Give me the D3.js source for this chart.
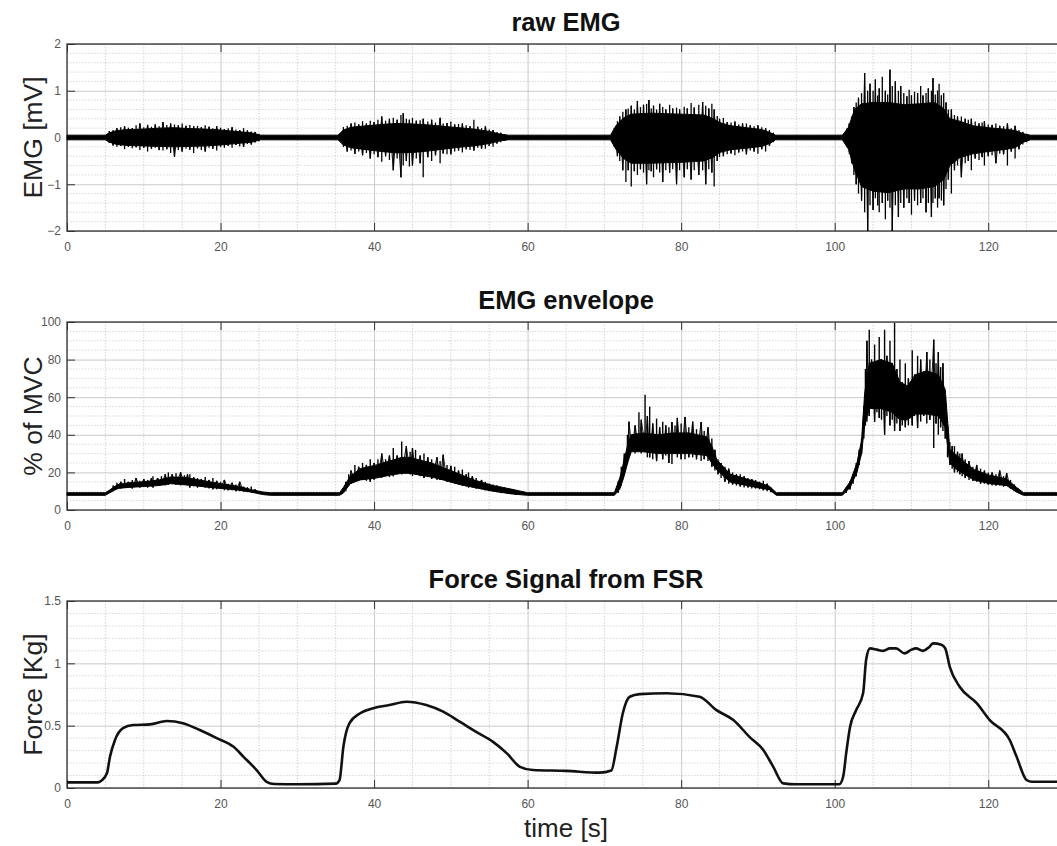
<!DOCTYPE html>
<html>
<head>
<meta charset="utf-8">
<script src="https://cdn.jsdelivr.net/npm/d3@7"></script>
<style>
  body { margin: 0; background: #fff; }
  svg { display: block; font-family: "Liberation Sans", Arial, sans-serif; }
  .tick text { fill: #555; font-size: 12px; }
  .domain { display: none; }
</style>
</head>
<body>
<svg id="chart" width="1057" height="846"></svg>
<script>
// time axis shared by all three panels
const xTicks = [0, 20, 40, 60, 80, 100, 120]
const xDomain = [0, 130]

// raw EMG core band: [time s, lower mV, upper mV]
const rawBody = [
  [0,-0.05,0.05],[5,-0.05,0.05],[5.5,-0.1,0.1],[6.5,-0.15,0.15],[8,-0.17,0.17],[10,-0.18,0.18],
  [12,-0.19,0.2],[14,-0.2,0.21],[16,-0.19,0.19],[18,-0.18,0.18],[20,-0.16,0.16],[22,-0.13,0.13],
  [24,-0.1,0.1],[25.2,-0.05,0.05],[35.3,-0.05,0.05],[36,-0.16,0.16],[37,-0.22,0.22],[39,-0.26,0.25],
  [41,-0.3,0.28],[43,-0.33,0.3],[45,-0.32,0.29],[47,-0.29,0.27],[49,-0.25,0.24],[51,-0.21,0.21],
  [53,-0.18,0.18],[55,-0.13,0.13],[56.5,-0.07,0.07],[57.5,-0.05,0.05],[70.8,-0.05,0.05],
  [71.5,-0.25,0.25],[72.5,-0.45,0.42],[73.5,-0.55,0.5],[76,-0.55,0.52],[80,-0.53,0.5],[83,-0.5,0.48],
  [84.2,-0.42,0.4],[85,-0.32,0.32],[86.5,-0.26,0.25],[89,-0.22,0.2],[90.5,-0.19,0.17],
  [91.5,-0.13,0.11],[92.3,-0.05,0.05],[101,-0.05,0.05],[101.8,-0.25,0.22],[102.6,-0.7,0.6],
  [103.5,-1.05,0.72],[105,-1.15,0.75],[107,-1.18,0.75],[109,-1.1,0.7],[111,-1.1,0.72],
  [113,-1.05,0.75],[114.2,-0.9,0.62],[115,-0.6,0.4],[116.3,-0.43,0.35],[118,-0.35,0.25],
  [120,-0.3,0.21],[122,-0.26,0.18],[123.5,-0.22,0.15],[124.6,-0.1,0.08],[125.5,-0.05,0.05],
  [130,-0.05,0.05]
]

// raw EMG oscillation extremes: [time s, lower mV, upper mV]
const rawSpikes = [
  [5.5,-0.12,0.14],[6,-0.17,0.16],[6.5,-0.2,0.2],[7,-0.18,0.22],[7.5,-0.25,0.24],[8,-0.2,0.21],
  [8.5,-0.23,0.2],[9,-0.21,0.26],[9.5,-0.27,0.3],[10,-0.22,0.22],[10.5,-0.3,0.27],[11,-0.24,0.23],
  [11.5,-0.22,0.28],[12,-0.27,0.24],[12.5,-0.28,0.33],[13,-0.25,0.27],[13.5,-0.33,0.3],
  [14,-0.41,0.28],[14.5,-0.27,0.26],[15,-0.3,0.3],[15.5,-0.24,0.25],[16,-0.26,0.27],
  [16.5,-0.33,0.24],[17,-0.23,0.25],[17.5,-0.27,0.22],[18,-0.3,0.26],[18.5,-0.22,0.23],
  [19,-0.24,0.2],[19.5,-0.28,0.24],[20,-0.2,0.21],[20.5,-0.22,0.18],[21,-0.18,0.2],
  [21.5,-0.22,0.22],[22,-0.16,0.17],[22.5,-0.19,0.16],[23,-0.2,0.2],[23.5,-0.14,0.15],
  [24,-0.15,0.13],[24.5,-0.11,0.12],[25,-0.08,0.08],
  [36,-0.2,0.22],[36.5,-0.3,0.25],[37,-0.28,0.3],[37.5,-0.35,0.32],[38,-0.3,0.28],[38.5,-0.38,0.35],
  [39,-0.33,0.3],[39.5,-0.45,0.36],[40,-0.36,0.33],[40.5,-0.42,0.38],[41,-0.52,0.45],
  [41.5,-0.4,0.36],[42,-0.48,0.4],[42.5,-0.7,0.42],[43,-0.45,0.38],[43.5,-0.85,0.48],
  [43.8,-0.6,0.52],[44.2,-0.5,0.4],[44.6,-0.62,0.38],[45,-0.6,0.42],[45.5,-0.45,0.36],
  [46,-0.55,0.37],[46.4,-0.85,0.4],[47,-0.42,0.34],[47.5,-0.5,0.38],[48,-0.38,0.32],
  [48.6,-0.55,0.42],[49,-0.34,0.3],[49.5,-0.36,0.31],[50,-0.36,0.34],[50.5,-0.3,0.28],
  [51,-0.28,0.29],[51.5,-0.32,0.3],[52,-0.25,0.26],[52.5,-0.27,0.24],[53,-0.28,0.38],
  [53.5,-0.22,0.23],[54,-0.24,0.2],[54.5,-0.24,0.24],[55,-0.18,0.17],[55.5,-0.2,0.16],
  [56,-0.13,0.12],[56.5,-0.1,0.1],[57,-0.07,0.07],
  [71.3,-0.2,0.2],[71.7,-0.4,0.35],[72,-0.5,0.45],[72.4,-0.7,0.55],[72.8,-0.95,0.6],[73.1,-0.7,0.62],
  [73.5,-1.05,0.68],[73.9,-0.72,0.6],[74.3,-0.8,0.78],[74.7,-0.68,0.65],[75.1,-0.75,0.7],
  [75.5,-1.0,0.72],[75.8,-0.7,0.8],[76.1,-0.72,0.62],[76.4,-0.85,0.68],[76.8,-0.68,0.6],
  [77.2,-0.75,0.72],[77.6,-0.95,0.65],[78,-0.7,0.6],[78.5,-0.75,0.7],[78.9,-0.68,0.62],
  [79.4,-1.0,0.64],[79.8,-0.7,0.6],[80.4,-0.85,0.66],[80.8,-0.68,0.62],[81.3,-0.9,0.74],
  [81.7,-0.7,0.64],[82.3,-0.8,0.7],[82.8,-0.7,0.76],[83.2,-1.0,0.68],[83.6,-0.68,0.62],
  [84,-0.75,0.72],[84.3,-1.05,0.6],[84.7,-0.5,0.46],[85,-0.42,0.4],[85.5,-0.4,0.42],
  [86,-0.36,0.33],[86.5,-0.34,0.32],[87,-0.38,0.34],[87.5,-0.32,0.28],[88,-0.3,0.3],
  [88.5,-0.36,0.3],[89,-0.28,0.26],[89.5,-0.3,0.24],[90,-0.35,0.26],[90.5,-0.25,0.22],
  [91,-0.3,0.2],[91.5,-0.18,0.16],[92,-0.1,0.1],
  [101.3,-0.1,0.1],[101.6,-0.2,0.2],[101.9,-0.35,0.3],[102.2,-0.55,0.45],[102.5,-0.8,0.65],
  [102.8,-1.0,0.75],[103.1,-1.2,0.85],[103.5,-1.35,0.95],[103.9,-1.6,1.38],[104.3,-2.0,1.0],
  [104.6,-1.45,1.15],[105,-1.55,1.0],[105.3,-1.3,1.24],[105.6,-1.45,0.9],[105.8,-1.6,1.05],
  [106.2,-1.4,1.3],[106.6,-1.75,1.0],[106.9,-1.35,0.92],[107.2,-1.5,1.45],[107.5,-2.0,1.1],
  [107.9,-1.45,1.2],[108.3,-1.7,1.0],[108.6,-1.4,1.1],[109,-1.5,0.95],[109.4,-1.3,0.88],
  [109.7,-1.4,1.02],[110,-1.65,0.9],[110.4,-1.35,0.98],[110.8,-1.45,0.95],[111.2,-1.4,1.1],
  [111.5,-1.3,0.9],[111.9,-1.6,0.95],[112.2,-1.4,1.05],[112.6,-1.7,1.0],[112.8,-1.4,1.27],
  [113.1,-1.3,0.92],[113.4,-1.5,1.0],[113.6,-1.3,1.15],[113.9,-1.35,0.9],[114.2,-1.45,0.95],
  [114.5,-1.1,0.75],[114.8,-0.9,0.6],[115.2,-1.2,0.6],[115.6,-0.7,0.48],[116,-0.6,0.45],
  [116.5,-0.85,0.45],[117,-0.55,0.4],[117.4,-0.5,0.38],[117.8,-0.7,0.4],[118.3,-0.45,0.34],
  [118.8,-0.48,0.3],[119.2,-0.42,0.32],[119.5,-0.6,0.35],[120,-0.4,0.28],[120.5,-0.38,0.27],
  [121,-0.55,0.3],[121.5,-0.35,0.25],[122,-0.36,0.24],[122.5,-0.6,0.3],[123,-0.3,0.2],
  [123.5,-0.45,0.25],[124,-0.25,0.16],[124.5,-0.15,0.12],[125,-0.1,0.08]
]

// EMG envelope core band: [time s, lower %, upper %]
const envBody = [
  [0,7.8,9.2],[5,7.8,9.2],[5.5,9,10.5],[6.6,11.5,13.5],[8,12,14.5],[10,12.5,15],[12,13,16],
  [13.5,14,17.5],[15,13.5,17.5],[16.5,13,16.5],[18.6,12,15],[20,11.5,14],[22.5,10.5,12.5],
  [24,9.5,10.8],[25.5,8.2,9.6],[26.5,7.8,9.2],[35.5,7.8,9.2],[36,9,12],[36.9,14,18],[38.2,16,22],
  [40.3,17,24],[42,18.5,26],[43.6,19.5,28],[44.7,19.5,28],[46,18.5,26.5],[47.5,17.5,25],[49,16,22.5],
  [51.2,13.5,19],[53,12,16],[55.5,10,13],[58,8.5,11],[60,7.8,9.2],[71.3,7.8,9.2],
  [72,11,17],[72.5,17,25],[73.1,26,36],[73.5,31,40],[75,31,41],[77,30,40],[79,30,41],
  [81,30,41],[83.3,29,39],[84,25,34],[84.6,21.5,27],[86.4,14.8,19],[89.8,12,15],
  [91.5,10.8,12.6],[92.4,7.8,9.2],[101,7.8,9.2],[102,12,15],[102.9,20,25],[103.5,30,37],
  [103.9,45,62],[104.5,54,78],[106,54,80],[107.5,52,78],[108.5,48,68],[109.5,48,66],
  [110.5,51,72],[112,51,74],[113.5,50,72],[114.4,44,64],[115,25,32],[115.9,21.5,29],
  [118.1,16,21.5],[120.2,14,18.5],[122.4,13,16.5],[123.7,9.5,12],[124.6,7.8,9.2],[130,7.8,9.2]
]

// EMG envelope fluctuation extremes: [time s, lower %, upper %]
const envSpikes = [
  [6,10,13],[6.5,11,14.5],[7,11.5,15],[7.5,12,16.5],[8,12,15],[8.5,11.5,16],[9,13,17],[9.5,12,15.5],
  [10,12.5,16.5],[10.5,12,16],[11,12.5,17],[11.2,12,18],[11.8,13,17],[12.3,13.5,18],[12.8,13,19],
  [13.2,13.5,20],[13.7,14,19],[14.2,13.5,19.5],[14.8,13,20],[15.3,13.5,18.5],[15.7,13,19],
  [16,12,19],[16.5,12.5,17.5],[17,12,17],[17.5,12.5,16.5],[18,12,17.5],[18.5,11.5,16],[19,11,17],
  [19.5,11,15.5],[20,11.5,15],[20.5,10.5,16],[21,10.5,14],[21.5,10.5,14.5],[22,10,13.5],
  [22.5,10,15],[23,9.8,12.5],[23.5,9.5,12],[24,9.5,12.5],[24.5,9,11],[25,8.5,10],
  [36.3,10,15],[36.7,13,19],[37,14,21],[37.5,15,24],[38,16,23],[38.5,16,25],[39,15.5,24],
  [39.5,15,27],[40,16,25],[40.5,17,27],[41,17,30],[41.5,18,27],[42,17.5,29],[42.5,18,33],
  [43,19,29],[43.6,19,36.5],[44.2,20,34],[44.7,19,31],[45,18,33],[45.4,19,32],[46,18,29],
  [46.5,17,30],[47,17.5,28],[47.5,16.5,27],[48.2,16,28],[48.6,16,26],[49,16,29.4],[49.5,15,24],
  [50,14.5,23.5],[50.5,14,23],[51,13.5,21],[51.5,13,21.5],[52,12.5,19],[52.3,12,20],[52.8,12,18],
  [53.3,11.5,17],[54,11,16],[54.5,10.5,15],[55,10,14],[55.5,10,13.5],[56,9.5,13],[56.5,9,12.5],
  [57,9,12],[57.5,8.5,11.5],[58,8.5,11],[58.5,8,10],
  [71.8,9,15],[72.2,13,23],[72.6,19,30],[73,26,40],[73.2,30,47],[73.6,32,40],[74,30,45],
  [74.5,32,52],[74.8,30,48],[75.3,34,61.3],[75.6,28,50],[75.9,28,55],[76.3,27,46],[76.8,26,48.6],
  [77.2,30,44],[77.6,27,47],[78,29,45],[78.4,25,44],[78.8,24.5,46.8],[79.2,30,45],[79.5,28,49],
  [80,27,46],[80.5,27,49.5],[81,28,44],[81.5,28,47],[82,27,43],[82.6,26,46.8],[83,27,42],
  [83.5,26,44],[84,23,38],[84.4,21,32],[84.8,19,27],[85.2,17,25],[85.7,15,23],[86.2,14,22],
  [86.7,13.5,20],[87.2,13,19],[87.7,12.5,19],[88.2,12,18],[88.7,12,17],[89.2,11.5,16.5],
  [89.7,11.5,16],[90.2,11,15],[90.7,10.5,15.5],[91.2,10,14],[91.7,9.5,12],
  [101.5,9,12],[102,11,15.5],[102.4,14,19],[102.8,18,25],[103.2,24,32],[103.5,30,38],
  [103.8,38,55],[104,45,75],[104.2,47,90],[104.5,50,95.9],[104.8,55,80],[105.2,47,88],
  [105.5,52,78],[105.8,49,92],[106.1,48,80],[106.5,40,95.9],[106.8,50,82],[107.2,45,90],
  [107.5,48,78],[107.8,42,99.5],[108.1,46,75],[108.5,42,80],[108.8,45,68],[109.2,44,78],
  [109.6,45,70],[110.1,45,85],[110.4,50,72],[110.8,43.6,82],[111.2,47,80],[111.6,50,74],
  [112,46,84],[112.4,48,80],[112.9,33,90.6],[113.2,46,78],[113.5,40,84],[113.8,44,76],
  [114.1,42,78],[114.4,38,60],[114.7,28,45],[115,24,36],[115.3,22,34],[115.6,20,34],[116,20,31],
  [116.3,19,30],[116.6,18,30],[117,17,27],[117.5,16,26],[118,15.5,23],[118.5,15,24],[119,14,22],
  [119.5,14,21],[120,13.5,20],[120.5,13,20],[121,13,19],[121.5,13,21],[122,12.5,18],
  [122.4,12.7,19.7],[122.9,11.5,16],[123.4,10,13.5],[123.9,9,11.5]
]

// force from FSR: [time s, Kg]
const forcePts = [
  [0,0.045],[4,0.045],[4.5,0.06],[5.2,0.118],[5.6,0.25],[6.25,0.385],[7.3,0.48],[8.6,0.505],
  [10.8,0.51],[13,0.537],[15.1,0.52],[17.3,0.465],[19.5,0.4],[21.7,0.33],[23,0.25],[24.7,0.144],
  [26,0.05],[27,0.032],[30,0.03],[35,0.035],[35.5,0.064],[36,0.33],[36.8,0.52],[38.2,0.6],
  [39.9,0.64],[42,0.665],[44.2,0.692],[46.8,0.665],[49,0.612],[51.2,0.53],[53.3,0.45],
  [55.5,0.37],[57.3,0.278],[59,0.17],[60.7,0.144],[65,0.137],[69.4,0.123],[70.9,0.14],
  [71.6,0.33],[72.4,0.6],[73.3,0.732],[74.6,0.753],[78.1,0.76],[82.4,0.732],[84.6,0.625],
  [86.8,0.545],[88.9,0.41],[90.7,0.305],[92,0.17],[93.3,0.037],[95,0.03],[100.6,0.03],
  [101.1,0.09],[101.5,0.28],[102,0.49],[102.8,0.625],[103.7,0.76],[104.1,1.03],[104.6,1.12],
  [105.5,1.11],[106.3,1.1],[107.2,1.12],[108,1.12],[109.1,1.08],[110,1.11],[110.6,1.12],
  [111.5,1.1],[112.3,1.13],[112.8,1.16],[113.9,1.15],[114.4,1.12],[115,0.97],[116.3,0.81],
  [118.5,0.68],[120.2,0.545],[122.8,0.385],[123.7,0.25],[125,0.064],[125.7,0.05],[130,0.05]
]

const svg = d3.select('#chart')
const left = 67
const right = 1065

const x = d3.scaleLinear().domain(xDomain).range([left, right])

const panels = [
  { title: 'raw EMG', ylabel: 'EMG [mV]', top: 44, bottom: 231,
    domain: [-2, 2], ticks: [-2, -1, 0, 1, 2], minor: 0.2 },
  { title: 'EMG envelope', ylabel: '% of MVC', top: 322, bottom: 510,
    domain: [0, 100], ticks: [0, 20, 40, 60, 80, 100], minor: 5 },
  { title: 'Force Signal from FSR', ylabel: 'Force [Kg]', top: 601, bottom: 788,
    domain: [0, 1.5], ticks: [0, 0.5, 1, 1.5], minor: 0.1 }
]

panels.forEach(p => {
  const y = d3.scaleLinear().domain(p.domain).range([p.bottom, p.top])
  p.y = y
  const g = svg.append('g')
  const h = p.bottom - p.top

  // minor grid
  const xm = d3.range(xDomain[0], xDomain[1] + 0.001, 5).filter(v => v % 20 !== 0)
  const ym = d3.range(p.domain[0], p.domain[1] + 1e-9, p.minor)
    .filter(v => !p.ticks.some(t => Math.abs(t - v) < 1e-6))
  g.selectAll('.vminor').data(xm).enter().append('line')
    .attr('x1', d => x(d)).attr('x2', d => x(d))
    .attr('y1', p.top).attr('y2', p.bottom)
    .attr('stroke', '#c8c8c8').attr('stroke-width', 0.8).attr('stroke-dasharray', '1.5,1.5')
  g.selectAll('.hminor').data(ym).enter().append('line')
    .attr('x1', left).attr('x2', right)
    .attr('y1', d => y(d)).attr('y2', d => y(d))
    .attr('stroke', '#cfcfcf').attr('stroke-width', 0.8).attr('stroke-dasharray', '1.5,1.5')

  // major grid
  g.append('g').attr('transform', `translate(0,${p.bottom})`)
    .call(d3.axisBottom(x).tickValues(xTicks).tickSize(-h).tickFormat(''))
    .call(s => s.selectAll('line').attr('stroke', '#c4c4c4').attr('stroke-width', 0.9))
  g.append('g').attr('transform', `translate(${left},0)`)
    .call(d3.axisLeft(y).tickValues(p.ticks).tickSize(-(right - left)).tickFormat(''))
    .call(s => s.selectAll('line').attr('stroke', '#c4c4c4').attr('stroke-width', 0.9))

  // ticks and labels
  g.append('g').attr('transform', `translate(0,${p.bottom})`)
    .call(d3.axisBottom(x).tickValues(xTicks).tickSizeInner(-8).tickSizeOuter(0).tickPadding(11))
    .call(s => s.selectAll('line').attr('stroke', '#333'))
  g.append('g').attr('transform', `translate(0,${p.top})`)
    .call(d3.axisTop(x).tickValues(xTicks).tickSizeInner(-8).tickSizeOuter(0).tickFormat(''))
    .call(s => s.selectAll('line').attr('stroke', '#333'))
  g.append('g').attr('transform', `translate(${left},0)`)
    .call(d3.axisLeft(y).tickValues(p.ticks).tickSizeInner(-8).tickSizeOuter(0).tickPadding(6)
      .tickFormat(d3.format('~g')))
    .call(s => s.selectAll('line').attr('stroke', '#333'))
  g.append('g').attr('transform', `translate(${right},0)`)
    .call(d3.axisRight(y).tickValues(p.ticks).tickSizeInner(-8).tickSizeOuter(0).tickFormat(''))
    .call(s => s.selectAll('line').attr('stroke', '#333'))

  // box
  g.append('rect').attr('x', left).attr('y', p.top)
    .attr('width', right - left).attr('height', h)
    .attr('fill', 'none').attr('stroke', '#333').attr('stroke-width', 1.3)

  // title
  svg.append('text').attr('x', (left + right) / 2).attr('y', p.top - 13)
    .attr('text-anchor', 'middle').attr('font-weight', 'bold').attr('font-size', 25.5)
    .attr('fill', '#111').text(p.title)

  // y label
  svg.append('text')
    .attr('transform', `translate(42,${(p.top + p.bottom) / 2}) rotate(-90)`)
    .attr('text-anchor', 'middle').attr('font-size', 26.5).attr('fill', '#222')
    .text(p.ylabel)
})

// draws a core band plus vertical extremes for one noisy signal
function drawBand(p, body, spikes, spikeWidth) {
  svg.append('path').datum(body)
    .attr('d', d3.area().x(d => x(d[0])).y0(d => p.y(d[1])).y1(d => p.y(d[2])))
    .attr('fill', '#000').attr('stroke', '#000').attr('stroke-width', 1)

  // split the extremes into bursts so the zigzag does not cross the quiet gaps
  const bursts = []
  spikes.forEach((d, i) => {
    if (i === 0 || d[0] - spikes[i - 1][0] > 2) bursts.push([])
    bursts[bursts.length - 1].push(d)
  })
  const zig = d3.line().x(d => x(d[0])).y((d, i) => p.y(i % 2 ? d[1] : d[2]))
  svg.append('g').selectAll('path').data(bursts).enter().append('path')
    .attr('d', zig)
    .attr('fill', 'none').attr('stroke', '#000').attr('stroke-width', 0.9)

  svg.append('g').selectAll('line').data(spikes).enter().append('line')
    .attr('x1', d => x(d[0])).attr('x2', d => x(d[0]))
    .attr('y1', d => p.y(d[1])).attr('y2', d => p.y(d[2]))
    .attr('stroke', '#000').attr('stroke-width', spikeWidth)
}

drawBand(panels[0], rawBody, rawSpikes, 1.3)
drawBand(panels[1], envBody, envSpikes, 1.4)

// force
const p3 = panels[2]
svg.append('path').datum(forcePts)
  .attr('d', d3.line().x(d => x(d[0])).y(d => p3.y(d[1])).curve(d3.curveMonotoneX))
  .attr('fill', 'none').attr('stroke', '#111').attr('stroke-width', 2.6)

// x label
svg.append('text').attr('x', (left + right) / 2).attr('y', 837)
  .attr('text-anchor', 'middle').attr('font-size', 26).attr('fill', '#222')
  .text('time [s]')
</script>
</body>
</html>
